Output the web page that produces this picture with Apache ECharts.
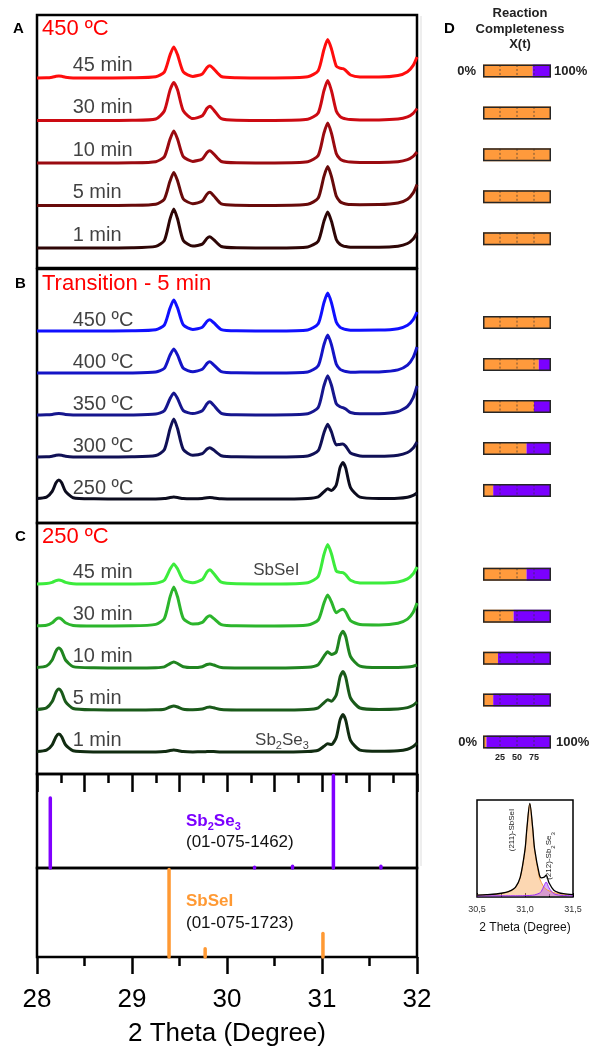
<!DOCTYPE html>
<html><head><meta charset="utf-8">
<script src="https://cdn.jsdelivr.net/npm/echarts@6/dist/echarts.min.js"></script>
<style>html,body{margin:0;padding:0;background:#fff}#c{width:589px;height:1048px}</style>
</head><body><div id="c"></div>
<script>
// ---------- DATA ----------
const twoTheta = [28.00,28.10,28.16,28.20,28.23,28.26,28.30,28.38,28.60,29.00,29.25,29.34,29.40,29.44,29.48,29.54,29.64,29.74,29.79,29.82,29.86,29.94,30.10,30.50,30.85,30.96,31.02,31.06,31.10,31.15,31.19,31.22,31.25,31.30,31.40,31.60,31.80,31.90,31.96,32.00];

// Panel A: 450 ºC, time series (top to bottom)
const namesA = ['45 min','30 min','10 min','5 min','1 min'];
const a45 = [0.1,0.2,0.8,1.7,2,1.7,0.8,0.1,0, 0.2,1.2,5.9,22.9,31.1,23.1,6.1,1.6,4.1,10.5,12.2,9.1,1.5,0.3, 0.1,1.2,7.3,28.3,38.4,28.9,11.9,9.8,9.3,7.5,3,1.1,1,2.5,6.3,12.6,21];
const a30 = [0,0,0,0,0,0,0,0,0, 0.2,1.5,9.5,30.4,38.1,30.5,9.7,1.9,4.8,12.2,14.3,10.6,1.9,0.3, 0.1,1.2,7.6,29.6,40,29.6,9.6,4,2.4,1.6,0.9,0.6,0.6,1.4,3.6,7.2,12];
const a10 = [0,0,0,0,0,0,0,0,0, 0.2,1.3,6.1,23.7,32.1,23.8,6.3,1.6,4.1,10.5,12.3,9.1,1.5,0.2, 0.1,1.2,7.6,29.6,40,29.6,9.6,4,2.4,1.6,0.9,0.6,0.5,1.3,3.3,6.6,11];
const a5  = [0,0,0,0,0,0,0,0,0, 0.2,1.3,6.3,24.4,33.1,24.6,6.5,1.8,4.4,11.4,13.3,9.8,1.7,0.3, 0.1,1.2,7.4,28.9,39,28.9,9.4,3.9,2.3,1.6,0.9,0.8,0.9,2.5,6.3,12.6,21];
const a1  = [0,0,0,0,0,0,0,0,0, 0.2,1.6,7.4,28.9,39.1,29,7.6,1.9,3.9,9.8,11.3,8.3,1.5,0.2, 0.1,1.1,6.8,26.6,36,26.6,8.6,3.6,2.2,1.4,0.8,0.7,0.7,1.8,4.5,9,15];

// Panel B: transition, 5 min
const namesB = ['450 ºC','400 ºC','350 ºC','300 ºC','250 ºC'];
const b450 = [0,0,0,0,0,0,0,0,0, 0.2,1.2,5.9,22.9,31.1,23,6.1,1.6,3.8,9.7,11.2,8.3,1.4,0.2, 0.1,1.1,7.2,28.1,38,28.1,9.1,3.8,2.3,1.5,0.8,0.8,0.9,2.3,5.7,11.4,19];
const b400 = [0,0,0,0,0,0,0,0,0, 0.1,1,4.6,17.8,24.1,17.9,4.7,1.3,3.7,9.6,11.2,8.2,1.4,0.2, 0.1,1.1,7.2,28.1,38,28.1,9.1,3.8,2.3,1.5,0.8,0.9,1.1,3.1,7.8,15.6,26];
const b350 = [0,0.2,0.6,1.3,1.5,1.3,0.6,0.1,0, 0.1,0.9,4.2,16.3,22.1,16.4,4.4,1.4,4.3,11.3,13.2,9.7,1.7,0.2, 0.1,1.2,7.5,29.1,39.3,29.5,11.4,8.2,7.3,5.9,2.5,1.2,1.3,3.5,8.7,17.4,29];
const b300 = [0.1,0.2,0.8,1.7,2,1.7,0.8,0.1,0, 0.2,1.5,7.2,28.1,38.1,28.2,7.4,1.7,3.3,8,9.3,6.9,1.3,0.2, 0.1,1.1,6.3,24.1,32.7,25,12.1,12.6,12.9,10.7,4.1,1.1,0.8,1.8,4.5,9,15];
const b250 = [0.5,1.9,7.6,16.2,19,16.2,7.6,1.3,0.2, 0,0.1,0.4,1.5,2,1.5,0.4,0.2,0.5,1.3,1.5,1.1,0.2,0, 0,0.5,2.1,7.2,10.2,8.5,14,31.4,36.5,30.9,11.4,1.8,0.5,0.8,1.8,3.6,6];

// Panel C: 250 ºC, time series
const namesC = ['45 min','30 min','10 min','5 min','1 min'];
const c45 = [0.1,0.4,1.6,3.4,4,3.4,1.6,0.3,0, 0.1,0.8,3.8,14.8,20.1,15,4,1.3,4.5,12.1,14.2,10.5,1.8,0.2, 0.1,1.3,7.6,29.2,39.5,30,13,11.6,11.3,9.3,3.7,1.1,0.9,2,5.1,10.2,17];
const c30 = [0.2,0.8,3.2,6.8,8,6.8,3.2,0.6,0.1, 0.2,1.6,7.4,28.9,39.1,29,7.6,1.9,3.6,8.9,10.3,7.6,1.4,0.2, 0.1,1,6,22.7,30.9,24,13.2,15.8,16.8,14,5.4,1.5,1.1,2.8,6.9,13.8,23];
const c10 = [0.5,2,8,17,20,17,8,1.4,0.2, 0,0.2,1.1,4.4,6,4.5,1.2,0.4,1.3,3.5,4,3,0.5,0.1, 0,0.7,3.3,11.7,16.2,13.5,16,32,36.8,31.2,11.5,1.8,0.4,0.5,0.9,1.8,3];
const c5  = [0.5,2.1,8.4,17.9,21,17.9,8.4,1.5,0.2, 0,0.2,0.8,3,4,3,0.8,0.3,1,2.6,3,2.2,0.4,0, 0,0.5,2.2,7.2,10.3,8.8,15,33.1,38.5,32.6,12,2,0.6,1.1,2.4,4.8,8];
const c1  = [0.5,1.8,7.2,15.3,18,15.3,7.2,1.3,0.1, 0,0.1,0.4,1.5,2,1.5,0.4,0.1,0.2,0.4,0.5,0.4,0.1,0, 0,0.5,1.8,5.7,8.2,7.5,14.5,32.1,37.4,31.7,11.6,1.9,0.7,1.2,2.7,5.4,9];

// Reference patterns
const sb2se3Pos = [28.14, 30.29, 30.69, 31.12, 31.62];
const sb2se3Int = [76, 2.5, 3.5, 100, 3.5];
const sbseiPos  = [29.39, 29.77, 31.01];
const sbseiInt  = [100, 11, 28];

// Panel D: reaction completeness, SbSeI share (%) per pattern, top to bottom
const dFracA = [73, 100, 100, 100, 100];
const dFracB = [100, 82, 75, 64, 15];
const dFracC = [64, 45, 22, 15, 5];
const dTicks = [25, 50, 75];

// Inset: peak fit around 31 degrees
const insetTheta  = [30.5,30.6,30.7,30.8,30.85,30.9,30.95,31.0,31.02,31.05,31.08,31.1,31.15,31.17,31.2,31.22,31.25,31.3,31.35,31.4,31.5];
const insetSbSeI  = [0.8,1.1,1.8,3.4,5.1,8.4,18.4,46,67.6,92,67.6,46,18.4,13.6,8.4,6.8,5.1,3.4,2.4,1.8,1.1];
const insetSb2Se3 = [0.1,0.1,0.15,0.2,0.2,0.2,0.23,0.34,0.4,0.57,0.82,1.1,2.8,4.6,10.5,14,8.1,2.3,1.0,0.5,0.2];
const insetTotal  = [0.9,1.3,2,3.6,5.3,8.6,18.6,46.3,68,92.6,68.4,47.1,21.2,18.2,18.9,20.8,13.2,5.7,3.4,2.3,1.3];

// ---------- LAYOUT / STYLE ----------
const FONT = '"Liberation Sans", Arial, sans-serif';
const panels = [
  {grid:{left:37,top:15,width:380,height:253}, names:namesA, curves:[a45,a30,a10,a5,a1],
   colors:['#ff0d0d','#cc0a12','#9a0a10','#680a0a','#2e0606'], base:20, step:42.5, dy:13},
  {grid:{left:37,top:269,width:380,height:254}, names:namesB, curves:[b450,b400,b350,b300,b250],
   colors:['#1010ff','#1414c6','#16168e','#101056','#0c0c1e'], base:24, step:42, dy:11},
  {grid:{left:37,top:523,width:380,height:251}, names:namesC, curves:[c45,c30,c10,c5,c1],
   colors:['#3cec3c','#2cb52c','#208520','#1a5a1a','#112c11'], base:22, step:42, dy:12}
];
const ORANGE = '#ff9a3c', PURPLE = '#7b00ff';

const grids = panels.map(p => Object.assign({show:true, borderColor:'#000', borderWidth:2.5, backgroundColor:'transparent'}, p.grid));
grids.push({left:37,top:774,width:380,height:94, show:true, borderColor:'#000', borderWidth:2.5});
grids.push({left:37,top:868,width:380,height:94, show:true, borderColor:'#000', borderWidth:2.5});
grids.push({left:483,top:50,width:68,height:713, show:false});
grids.push({left:477,top:800,width:96,height:97, show:true, borderColor:'#000', borderWidth:1.5});

const xAxes = [], yAxes = [], series = [];
panels.forEach((p, gi) => {
  xAxes.push({gridIndex:gi, type:'value', min:28, max:32, show:false});
  yAxes.push({gridIndex:gi, type:'value', min:0, max:p.grid.height, show:false});
  p.curves.forEach((vals, i) => {
    const off = p.base + (p.curves.length - 1 - i) * p.step;
    series.push({type:'line', xAxisIndex:gi, yAxisIndex:gi, showSymbol:false, smooth:0.22,
      lineStyle:{width:3, color:p.colors[i], join:'round'}, itemStyle:{color:p.colors[i]}, silent:true,
      data: twoTheta.map((x, j) => [x, off + vals[j]])});
    series.push({type:'scatter', xAxisIndex:gi, yAxisIndex:gi, symbolSize:1, itemStyle:{color:'transparent'}, silent:true,
      data:[{value:[28.37, off + p.dy], name:p.names[i]}],
      label:{show:true, position:'right', distance:0, formatter:'{b}', fontSize:20, color:'#111', fontFamily:FONT}});
  });
});
// extra labels in panel C
series.push({type:'scatter', xAxisIndex:2, yAxisIndex:2, symbolSize:1, itemStyle:{color:'transparent'}, silent:true,
  data:[{value:[30.27, 22 + 4*42 + 14], name:'sbsei'}, {value:[30.29, 22 + 12], name:'sb2se3'}],
  label:{show:true, position:'right', distance:0, fontFamily:FONT, color:'#111',
    formatter: p => p.name === 'sbsei' ? '{a|SbSeI}' : '{a|Sb}{s|2}{a|Se}{s|3}',
    rich:{a:{fontSize:17, lineHeight:22, verticalAlign:'middle', fontFamily:FONT, color:'#111'},
          s:{fontSize:11, lineHeight:11, verticalAlign:'bottom', fontFamily:FONT, color:'#111'}}}});

// reference stick panels
xAxes.push({gridIndex:3, type:'value', min:28, max:32, interval:0.5, position:'top',
  axisLine:{show:false, onZero:false}, axisLabel:{show:false}, splitLine:{show:false},
  axisTick:{show:true, inside:true, length:18, lineStyle:{width:2.5, color:'#000'}},
  minorTick:{show:true, splitNumber:2, length:9, lineStyle:{width:2.5, color:'#000'}}});
yAxes.push({gridIndex:3, type:'value', min:0, max:100, show:false});
xAxes.push({gridIndex:4, type:'value', min:28, max:32, interval:1, position:'bottom',
  axisLine:{show:false, onZero:false}, splitLine:{show:false},
  axisTick:{show:true, inside:false, length:17, lineStyle:{width:2.5, color:'#000'}},
  minorTick:{show:true, splitNumber:2, length:9, lineStyle:{width:2.5, color:'#000'}},
  axisLabel:{fontSize:26, color:'#000', margin:30, fontFamily:FONT},
  name:'2 Theta (Degree)', nameLocation:'middle', nameGap:64,
  nameTextStyle:{fontSize:26, color:'#000', fontFamily:FONT}});
yAxes.push({gridIndex:4, type:'value', min:0, max:100, show:false});

function stickSeries(gi, pos, ints, color) {
  return {type:'custom', xAxisIndex:gi, yAxisIndex:gi, silent:true,
    data: pos.map((x, k) => [x, ints[k]]),
    renderItem: (params, api) => {
      const p0 = api.coord([api.value(0), 0]);
      const p1 = api.coord([api.value(0), api.value(1)]);
      return {type:'line', shape:{x1:p0[0], y1:p0[1], x2:p1[0], y2:p1[1] + 1.5},
        style:{stroke:color, lineWidth:3.5, lineCap:'round'}};
    }};
}
series.push(stickSeries(3, sb2se3Pos, sb2se3Int, '#8000ff'));
series.push(stickSeries(4, sbseiPos, sbseiInt, '#ff9933'));

// Panel D bars
const dFrac = [...dFracA, null, ...dFracB, null, ...dFracC];
const dCats = dFrac.map((v, i) => 'r' + i);
xAxes.push({gridIndex:5, type:'value', min:0, max:100, show:false});
yAxes.push({gridIndex:5, type:'category', data:dCats, inverse:true, show:false});
series.push({type:'bar', xAxisIndex:5, yAxisIndex:5, stack:'d', barWidth:13, barGap:'-100%', silent:true,
  itemStyle:{color:ORANGE}, data:dFrac});
series.push({type:'bar', xAxisIndex:5, yAxisIndex:5, stack:'d', barWidth:13, barGap:'-100%', silent:true,
  itemStyle:{color:PURPLE}, data:dFrac.map(v => v == null ? null : 100 - v)});
series.push({type:'custom', xAxisIndex:5, yAxisIndex:5, silent:true, z:3,
  data: dFrac.map((v, i) => v == null ? null : [0, i]).filter(d => d),
  encode:{x:0, y:1},
  renderItem: (params, api) => {
    const yi = api.value(1);
    return {type:'group', children: dTicks.map(t => {
      const p = api.coord([t, yi]);
      return {type:'line', shape:{x1:p[0], y1:p[1] - 6, x2:p[0], y2:p[1] + 6},
        style:{stroke:'#333', lineWidth:1, lineDash:[2, 2], opacity:0.7}};
    })};
  }});
series.push({type:'bar', xAxisIndex:5, yAxisIndex:5, barWidth:13, barGap:'-100%', silent:true, z:4,
  itemStyle:{color:'rgba(0,0,0,0)', borderColor:'#262626', borderWidth:1.5},
  data:dFrac.map(v => v == null ? null : 100)});

// Inset
xAxes.push({gridIndex:6, type:'value', min:30.5, max:31.5, interval:0.5,
  axisLine:{show:false, onZero:false}, splitLine:{show:false},
  axisTick:{show:true, inside:true, length:4, lineStyle:{color:'#000', width:1}},
  minorTick:{show:true, splitNumber:2, length:3, lineStyle:{color:'#000', width:1}},
  axisLabel:{fontSize:9, color:'#333', margin:8, fontFamily:FONT, formatter: v => v.toFixed(1).replace('.', ',')},
  name:'2 Theta (Degree)', nameLocation:'middle', nameGap:25,
  nameTextStyle:{fontSize:12, color:'#111', fontFamily:FONT}});
yAxes.push({gridIndex:6, type:'value', min:-1, max:96, show:false});
series.push({type:'line', xAxisIndex:6, yAxisIndex:6, showSymbol:false, smooth:0.3, silent:true,
  lineStyle:{color:'#f39a3e', width:1}, areaStyle:{color:'rgba(250,178,108,0.75)'},
  data: insetTheta.map((x, k) => [x, insetSbSeI[k]])});
series.push({type:'line', xAxisIndex:6, yAxisIndex:6, showSymbol:false, smooth:0.3, silent:true,
  lineStyle:{color:'#9a2cf5', width:1}, areaStyle:{color:'rgba(165,70,245,0.6)'},
  data: insetTheta.map((x, k) => [x, insetSb2Se3[k]])});
series.push({type:'line', xAxisIndex:6, yAxisIndex:6, showSymbol:false, smooth:0.3, silent:true,
  lineStyle:{color:'#000', width:1.3},
  data: insetTheta.map((x, k) => [x, insetTotal[k]])});

function txt(text, x, y, size, opts) {
  opts = opts || {};
  return {type:'text', z:100, silent:true, x: x, y: y, rotation: opts.rot || 0,
    style:{text:text, x:0, y:0, fill:opts.color || '#000', fontSize:size, fontFamily:FONT,
      fontWeight:opts.bold ? 'bold' : 'normal', align:opts.align || 'left', verticalAlign:'middle',
      textAlign:opts.align || 'left', textVerticalAlign:'middle', rich:opts.rich}};
}

const chart = echarts.init(document.getElementById('c'), null, {renderer:'canvas', width:589, height:1048});
chart.setOption({animation:false, backgroundColor:'#fff', grid:grids, xAxis:xAxes, yAxis:yAxes, series:series});

const lastRow = dFrac.length - 1;
const p0 = chart.convertToPixel({xAxisIndex:5, yAxisIndex:5}, [0, 0]);
const p100 = chart.convertToPixel({xAxisIndex:5, yAxisIndex:5}, [100, 0]);
const pl0 = chart.convertToPixel({xAxisIndex:5, yAxisIndex:5}, [0, lastRow]);
const pl100 = chart.convertToPixel({xAxisIndex:5, yAxisIndex:5}, [100, lastRow]);
const richSub = (c, b, s1, s2) => ({a:{fontSize:s1, fontWeight:b ? 'bold' : 'normal', fill:c, color:c, fontFamily:FONT, lineHeight:s1 + 6, verticalAlign:'middle'},
  s:{fontSize:s2, fontWeight:b ? 'bold' : 'normal', fill:c, color:c, fontFamily:FONT, lineHeight:s2, verticalAlign:'bottom'}});

const graphics = [
  txt('A', 13, 29, 15, {bold:true}),
  txt('B', 15, 284, 15, {bold:true}),
  txt('C', 15, 537, 15, {bold:true}),
  txt('450 ºC', 42, 29, 22, {color:'#ff0000'}),
  txt('Transition - 5 min', 42, 284, 22, {color:'#ff0000'}),
  txt('250 ºC', 42, 537, 22, {color:'#ff0000'}),
  txt('{a|Sb}{s|2}{a|Se}{s|3}', 186, 821, 17, {rich:richSub(PURPLE, true, 17, 11)}),
  txt('(01-075-1462)', 186, 842, 17, {color:'#111'}),
  txt('SbSeI', 186, 901, 17, {bold:true, color:'#ff9933'}),
  txt('(01-075-1723)', 186, 923, 17, {color:'#111'}),
  txt('D', 444, 29, 15, {bold:true}),
  txt('Reaction', 520, 13, 13, {bold:true, align:'center', color:'#222'}),
  txt('Completeness', 520, 29, 13, {bold:true, align:'center', color:'#222'}),
  txt('X(t)', 520, 44, 13, {bold:true, align:'center', color:'#222'}),
  txt('0%', p0[0] - 7, p0[1], 13, {bold:true, align:'right', color:'#222'}),
  txt('100%', p100[0] + 3, p100[1], 13, {bold:true, color:'#222'}),
  txt('0%', pl0[0] - 6, pl0[1], 13, {bold:true, align:'right', color:'#222'}),
  txt('100%', pl100[0] + 5, pl100[1], 13, {bold:true, color:'#222'}),
  txt('(211)-SbSeI', 512, 830, 8, {rot:Math.PI / 2, align:'center', color:'#222'}),
  txt('{a|(212)-Sb}{s|2}{a|Se}{s|3}', 549, 856, 8, {rot:Math.PI / 2, align:'center', rich:richSub('#222', false, 8, 6)}),
  {type:'line', silent:true, z:0, shape:{x1:421, y1:16, x2:421, y2:866}, style:{stroke:'#e8e8e8', lineWidth:1.5}}
];
dTicks.forEach(t => {
  const p = chart.convertToPixel({xAxisIndex:5, yAxisIndex:5}, [t, lastRow]);
  graphics.push(txt(String(t), p[0], p[1] + 15, 9, {bold:true, align:'center', color:'#222'}));
});
chart.setOption({graphic:{elements:graphics}});
</script>
</body></html>
